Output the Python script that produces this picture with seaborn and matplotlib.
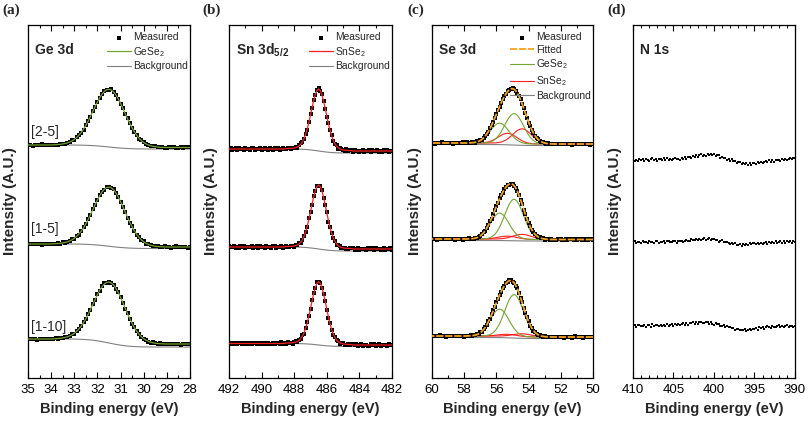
import numpy as np
import matplotlib
matplotlib.use("Agg")
import matplotlib.pyplot as plt
import seaborn as sns
from matplotlib.ticker import MultipleLocator

# ---------------- data (intensities in arbitrary units) ----------------
samples = ["[2-5]", "[1-5]", "[1-10]"]

# energy grids (eV)
e_ge = np.round(np.arange(35.0, 27.95, -0.1), 2)
e_sn = np.round(np.arange(492.0, 481.95, -0.1), 2)
e_se = np.round(np.arange(60.0, 49.95, -0.1), 2)
e_n = np.round(np.arange(410.0, 389.9, -0.2), 2)

# line shapes, high BE -> low BE, 0.1 eV steps
shape_ge = [0.003, 0.005, 0.008, 0.012, 0.018, 0.026, 0.037, 0.052, 0.072, 0.098,
            0.131, 0.172, 0.222, 0.281, 0.349, 0.425, 0.508, 0.594, 0.681, 0.765,
            0.842, 0.907, 0.958, 0.989, 1.0,
            0.989, 0.958, 0.907, 0.841, 0.763, 0.678, 0.589, 0.501, 0.417, 0.339,
            0.270, 0.211, 0.161, 0.120, 0.088, 0.063, 0.044, 0.030, 0.020, 0.013,
            0.008, 0.005, 0.003, 0.001]
shape_sn = [0.007, 0.008, 0.009, 0.011, 0.013, 0.017, 0.024, 0.035, 0.052, 0.078,
            0.117, 0.171, 0.243, 0.335, 0.444, 0.566, 0.692, 0.811, 0.910, 0.977, 1.0,
            0.977, 0.910, 0.811, 0.692, 0.566, 0.444, 0.335, 0.243, 0.171, 0.117,
            0.078, 0.052, 0.035, 0.024, 0.017, 0.013, 0.011, 0.009, 0.008, 0.007]
shape_se = [0.003, 0.005, 0.008, 0.014, 0.022, 0.035, 0.054, 0.081, 0.118, 0.166,
            0.226, 0.300, 0.386, 0.483, 0.586, 0.690, 0.788, 0.875, 0.942, 0.985, 1.0,
            0.985, 0.942, 0.875, 0.788, 0.690, 0.586, 0.483, 0.386, 0.300, 0.226,
            0.166, 0.118, 0.081, 0.054, 0.035, 0.022, 0.014, 0.008, 0.005, 0.003]
# Shirley-like background step (1 on high BE side, 0 on low BE side)
bg_step = [0.998, 0.997, 0.996, 0.994, 0.991, 0.986, 0.980, 0.972, 0.961, 0.947,
           0.929, 0.907, 0.881, 0.848, 0.811, 0.769, 0.722, 0.670, 0.616, 0.558, 0.5,
           0.442, 0.384, 0.330, 0.278, 0.231, 0.189, 0.152, 0.119, 0.093, 0.071,
           0.053, 0.039, 0.028, 0.020, 0.014, 0.009, 0.006, 0.004, 0.003, 0.002]

# scatter of measured points around the fit
resid = [-0.5, 0.9, -1.0, 0.4, 0.7, -0.6, 1.2, -0.3, 0.2, -0.9,
         1.0, -0.4, 0.3, -1.1, 0.6, 0.9, -0.7, 0.1, -0.5, 1.1,
         -0.8, 0.5, 1.0, -0.2, -0.9, 0.7, 0.3, -1.2, 0.8, -0.1,
         0.6, -1.0, 0.2, 0.9, -0.4, -0.8, 1.1, 0.0, -0.6, 0.7,
         -0.2, 0.8, -0.9, 0.5, 1.0, -0.5, -0.3, 0.9, -1.1, 0.4,
         0.9, -0.3, 0.6, -1.0, 0.2, 1.1, -0.8, 0.4, -0.2, -0.7,
         -1.0, 0.7, 0.1, 0.8, -0.6, -0.3, 1.0, -0.9, 0.5, 0.2,
         0.4, -0.9, 1.2, -0.5, 0.3, 0.6, -1.0, 0.8, -0.4, 0.1,
         -0.7, 0.2, 0.9, -0.8, 0.5, -0.2, 0.7, -1.1, 1.0, -0.4,
         0.3, 1.0, -0.6, 0.4, -0.9, 0.8, -0.2, 0.6, -1.0, 0.5, 0.0]

# Ge 3d
ge_center = 31.5
ge_left = [233, 134, 39]
ge_right = [230.5, 131, 34]
ge_bg_right = [229, 129.5, 31]
ge_height = [57, 58.5, 59.5]

# Sn 3d5/2
sn_center = 486.5
sn_left = [229, 131, 34.5]
sn_right = [227, 129, 33]
sn_bg_right = [225, 127, 31.5]
sn_height = [61, 63, 62.5]

# Se 3d components
se_center = 55.0
se_left = [235, 139, 42]
se_right = [234, 138.5, 41]
se_bg_left = [233.5, 137.5, 40.5]
se_bg_right = [232.5, 137, 39.5]
gese_pos = [54.9, 55.8]
snse_pos = [54.4, 55.3]
gese_h52 = [30, 40, 42]
gese_h32 = [20, 26, 27]
snse_h52 = [15, 5, 3]
snse_h32 = [10, 3, 2]

# N 1s (no signal)
n_base = [218, 136, 52]
n_top = [0.8, -0.6, 0.4, -0.9, 1.0, 0.0, 0.7, -0.6, 1.4, -0.1,
         -0.6, 1.0, 1.6, 0.0, 0.7, -0.6, 1.3, 1.0, 0.0, 1.6,
         0.4, 1.8, 0.0, 1.4, -0.3, 1.4, 1.9, 0.6, 1.3, 0.3,
         1.9, 1.1, 2.9, 1.2, 2.7, 3.5, 2.3, 3.8, 3.4, 4.8,
         3.2, 4.6, 5.6, 4.0, 4.9, 4.0, 6.1, 5.1, 6.2, 5.2,
         6.3, 4.3, 4.7, 4.8, 2.3, 3.1, 1.7, 2.2, -0.2, 0.6,
         -0.6, 0.6, -1.2, -0.8, -3.0, -2.1, -2.1, -4.2, -3.4, -4.4,
         -3.2, -4.5, -2.9, -4.6, -3.3, -2.7, -3.8, -1.7, -2.9, -2.0,
         -3.1, -1.7, -1.0, -1.9, -0.2, -1.7, -0.3, -1.6, 0.2, 0.0,
         0.5, -0.6, 1.4, 0.3, 1.5, -0.2, 1.5, 2.2, 0.8, 1.9, 1.7]
n_mid = [-0.6, 0.7, -1.3, 0.1, 0.4, -0.8, 1.0, -0.4, 0.1, -0.9,
         1.0, -0.4, 0.4, -1.0, 0.8, 1.1, -0.5, 0.4, -0.2, 1.4,
         -0.5, 0.9, 1.4, 0.3, -0.4, 1.3, 0.9, -0.6, 1.5, 0.7,
         1.4, 0.0, 1.4, 2.3, 1.2, 1.0, 3.1, 2.2, 1.7, 3.1,
         2.3, 3.4, 1.8, 3.3, 3.9, 2.5, 2.7, 3.8, 1.6, 2.9,
         3.1, 1.6, 2.2, 0.3, 1.2, 1.8, -0.4, 0.5, -0.4, -1.2,
         -1.8, -0.5, -1.5, -1.2, -3.0, -3.0, -1.9, -3.9, -2.4, -2.5,
         -2.1, -3.2, -0.9, -2.4, -1.4, -1.0, -2.4, -0.5, -1.6, -1.0,
         -1.7, -0.7, 0.1, -1.5, -0.1, -0.7, 0.3, -1.4, 0.8, -0.5,
         0.3, 1.0, -0.5, 0.6, -0.7, 1.0, 0.1, 1.0, -0.6, 1.0, 0.5]
n_bot = [-0.2, 0.9, -0.8, 0.7, 1.2, -0.3, 0.0, 1.2, -0.8, 0.8,
         0.8, -0.5, 1.7, 0.0, 0.8, 1.2, -0.4, 1.4, 0.3, 0.8,
         0.2, 1.7, -0.2, 1.3, 1.7, 0.5, 2.4, 1.0, 1.6, 0.6,
         1.9, 2.8, 1.4, 2.6, 1.5, 3.4, 2.6, 3.6, 2.1, 3.7,
         2.5, 3.9, 4.5, 3.3, 2.6, 4.1, 3.6, 1.9, 3.7, 2.5,
         1.3, 2.7, 1.7, 2.0, 0.2, 0.1, 1.0, -1.3, -0.3, -1.0,
         -0.6, -2.4, -2.1, -3.9, -2.5, -2.5, -4.3, -3.7, -4.4, -2.9,
         -4.7, -3.7, -2.9, -4.4, -2.9, -3.3, -2.1, -3.6, -1.2, -2.3,
         -1.1, -2.5, -1.1, -0.2, -1.3, -1.5, 0.5, -0.5, -1.0, 0.4,
         0.7, -0.5, 0.5, -1.1, 0.2, 1.1, -0.8, 0.5, -0.1, -0.6, 0.1]

# ---------------- helpers ----------------
def idx(e, c):
    return int(round((e[0] - c) / (e[0] - e[1])))

def place(shape, n, i0):
    shape = np.asarray(shape)
    out = np.zeros(n)
    half = len(shape) // 2
    lo, hi = i0 - half, i0 + half + 1
    out[max(lo, 0):min(hi, n)] = shape[max(0, -lo):len(shape) - max(0, hi - n)]
    return out

def step_profile(n, i0):
    half = len(bg_step) // 2
    out = np.zeros(n)
    out[:i0 - half] = 1.0
    out[i0 - half:i0 + half + 1] = bg_step
    return out

GREEN = "#73a532"
RED = "#ff1f1f"
GRAY = "#808080"
ORANGE = "#f5a31f"

sns.set_theme(style="ticks")
plt.rcParams["font.family"] = ["Liberation Sans", "DejaVu Sans"]
plt.rcParams["mathtext.fontset"] = "custom"
plt.rcParams["mathtext.rm"] = "Liberation Sans"
plt.rcParams["mathtext.it"] = "Liberation Sans:italic"
plt.rcParams["mathtext.bf"] = "Liberation Sans:bold"

fig = plt.figure(figsize=(8.08, 4.24), dpi=100)
W, H = 808, 424
ax_left = [28, 229, 432, 633]
ax_width = [162, 163, 161, 162]
axes = [fig.add_axes([l / W, 46 / H, w / W, 353 / H]) for l, w in zip(ax_left, ax_width)]

def meas_plot(ax, x, y, first, s=6):
    sns.scatterplot(x=x, y=y, ax=ax, marker="s", s=s, color="black", linewidth=0,
                    label="Measured" if first else None, zorder=2, legend=False)

def line(ax, x, y, color, lab, first, lw=0.9, z=3, ls="-"):
    sns.lineplot(x=x, y=y, ax=ax, color=color, lw=lw, label=lab if first else None,
                 estimator=None, zorder=z, linestyle=ls, legend=False)

# (a) Ge 3d
ax = axes[0]
n = len(e_ge)
i0 = idx(e_ge, ge_center)
pk = place(shape_ge, n, i0)
st = step_profile(n, i0)
for i in range(3):
    base = ge_right[i] + (ge_left[i] - ge_right[i]) * st
    fit = base + ge_height[i] * pk
    bg = ge_bg_right[i] + (ge_left[i] - ge_bg_right[i]) * st
    meas = fit + 0.5 * np.roll(resid, 9 * i)[:n]
    line(ax, e_ge, bg, GRAY, "Background", i == 0, lw=0.8, z=1)
    meas_plot(ax, e_ge, meas, i == 0)
    line(ax, e_ge, fit, GREEN, "GeSe$_2$", i == 0)
for lab, yy in zip(samples, [246, 149, 51]):
    ax.text(34.87, yy, lab, fontsize=10, va="center", ha="left")

# (b) Sn 3d5/2
ax = axes[1]
n = len(e_sn)
i0 = idx(e_sn, sn_center)
pk = place(shape_sn, n, i0)
st = step_profile(n, i0)
for i in range(3):
    base = sn_right[i] + (sn_left[i] - sn_right[i]) * st
    fit = base + sn_height[i] * pk
    bg = sn_bg_right[i] + (sn_left[i] - sn_bg_right[i]) * st
    meas = fit + 0.9 * np.roll(resid, 13 * i)[:n]
    line(ax, e_sn, bg, GRAY, "Background", i == 0, lw=0.8, z=1)
    meas_plot(ax, e_sn, meas, i == 0)
    line(ax, e_sn, fit, RED, "SnSe$_2$", i == 0)

# (c) Se 3d
ax = axes[2]
n = len(e_se)
st = step_profile(n, idx(e_se, se_center))
for i in range(3):
    base = se_right[i] + (se_left[i] - se_right[i]) * st
    bg = se_bg_right[i] + (se_bg_left[i] - se_bg_right[i]) * st
    g1 = gese_h52[i] * place(shape_se, n, idx(e_se, gese_pos[0]))
    g2 = gese_h32[i] * place(shape_se, n, idx(e_se, gese_pos[1]))
    s1 = snse_h52[i] * place(shape_se, n, idx(e_se, snse_pos[0]))
    s2 = snse_h32[i] * place(shape_se, n, idx(e_se, snse_pos[1]))
    fit = base + g1 + g2 + s1 + s2
    meas = fit + 0.5 * np.roll(resid, 17 * i)[:n]
    line(ax, e_se, bg, GRAY, "Background", i == 0, lw=0.8, z=1)
    line(ax, e_se, base + s1, RED, "SnSe$_2$", i == 0, lw=0.8, z=1.5)
    line(ax, e_se, base + s2, RED, None, False, lw=0.8, z=1.5)
    line(ax, e_se, base + g1, GREEN, "GeSe$_2$", i == 0, lw=0.8, z=1.6)
    line(ax, e_se, base + g2, GREEN, None, False, lw=0.8, z=1.6)
    meas_plot(ax, e_se, meas, i == 0)
    line(ax, e_se, fit, ORANGE, "Fitted", i == 0, lw=1.3, z=3, ls=(0, (4, 1)))

# (d) N 1s
ax = axes[3]
for i, arr in enumerate([n_top, n_mid, n_bot]):
    meas_plot(ax, e_n, n_base[i] + np.asarray(arr), False, s=4)

# ---------------- styling ----------------
titles = ["Ge 3d", r"$\mathbf{Sn\ 3d_{5/2}}$", "Se 3d", "N 1s"]
xlims = [(35, 28), (492, 482), (60, 50), (410, 390)]
majors = [1, 2, 2, 5]
minors = [0.5, 1, 1, 1]
panel = ["(a)", "(b)", "(c)", "(d)"]
panel_x = [2, 202, 407, 607]
orders = [["Measured", "GeSe$_2$", "Background"],
          ["Measured", "SnSe$_2$", "Background"],
          ["Measured", "Fitted", "GeSe$_2$", "SnSe$_2$", "Background"],
          None]

for k, ax in enumerate(axes):
    ax.set_xlim(*xlims[k])
    ax.set_ylim(0, 353)
    ax.xaxis.set_major_locator(MultipleLocator(majors[k]))
    ax.xaxis.set_minor_locator(MultipleLocator(minors[k]))
    ax.set_yticks([])
    ax.tick_params(axis="x", which="both", direction="in", top=True, bottom=True,
                   width=0.8, colors="black", labelsize=9.5, pad=4)
    ax.tick_params(axis="x", which="major", length=4)
    ax.tick_params(axis="x", which="minor", length=2.5)
    for sp in ax.spines.values():
        sp.set_color("black")
        sp.set_linewidth(0.9)
        sp.set_visible(True)
    ax.set_xlabel("Binding energy (eV)", fontsize=10.5, fontweight="bold", labelpad=5)
    ax.set_ylabel("Intensity (A.U.)", fontsize=11, fontweight="bold")
    ax.yaxis.set_label_coords(-0.065, 0.5)
    ax.text(0.045, 0.929, titles[k], transform=ax.transAxes, fontsize=10,
            fontweight="bold", va="center", ha="left")
    fig.text(panel_x[k] / W, 1 - 10 / H, panel[k], fontsize=11, fontweight="bold",
             family="Liberation Serif", va="center", ha="left")
    if orders[k]:
        h, l = ax.get_legend_handles_labels()
        lut = dict(zip(l, h))
        ax.legend([lut[o] for o in orders[k]], orders[k], loc="upper right",
                  bbox_to_anchor=(1.0, 0.985), frameon=False, fontsize=7.4,
                  handlelength=2.3, handletextpad=0.2, labelspacing=0.26,
                  borderpad=0.2, borderaxespad=0.0, scatterpoints=1, markerscale=1.3)
    else:
        leg = ax.get_legend()
        if leg:
            leg.remove()

fig.savefig("out.png", dpi=100)
